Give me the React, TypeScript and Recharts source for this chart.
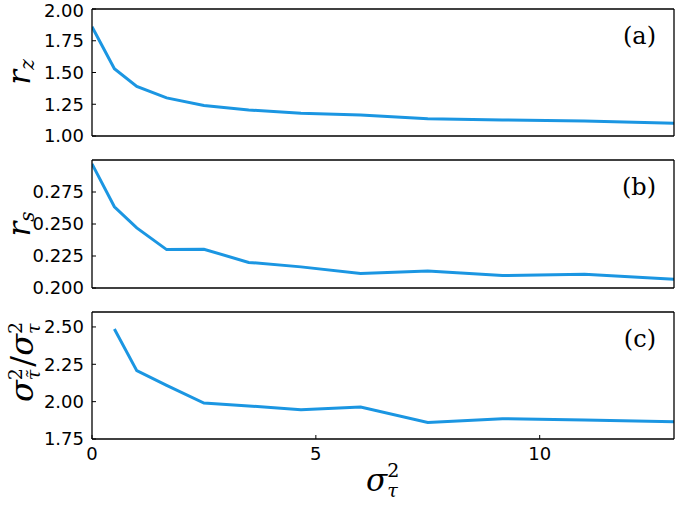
import { LineChart, Line, XAxis, YAxis } from "recharts";

// sigma_tau^2 sample points
const sigmaSq = [0, 0.5, 1, 1.667, 2.5, 3.5, 4.667, 6, 7.5, 9.167, 11, 13];
const rzValues = [1.86, 1.53, 1.39, 1.30, 1.24, 1.205, 1.18, 1.165, 1.135, 1.126, 1.118, 1.10];
const rsValues = [0.297, 0.2635, 0.247, 0.230, 0.2303, 0.220, 0.2165, 0.2113, 0.2133, 0.2097, 0.2107, 0.2068];
const ratioValues = [null, 2.486, 2.207, 2.109, 1.991, 1.971, 1.946, 1.964, 1.861, 1.886, 1.877, 1.866];

const xTicks = [0, 5, 10];
const rzTicks = [1.0, 1.25, 1.5, 1.75, 2.0];
const rsTicks = [0.2, 0.225, 0.25, 0.275];
const ratioTicks = [1.75, 2.0, 2.25, 2.5];

const W = 675;
const H = 506;
const BLUE = "#1b96e2";
const MATH = "DejaVu Serif";

const data = sigmaSq.map((x, i) => ({
  x,
  rz: rzValues[i],
  rs: rsValues[i],
  ratio: ratioValues[i],
}));

const frame = { stroke: "#000", strokeWidth: 1.3 };
const tickFont = { fill: "#000", fontSize: 18, fontFamily: "DejaVu Sans" };

function Tag({ text, x, y }: { text: string; x: number; y: number }) {
  return (
    <text x={x} y={y} textAnchor="end" fontFamily={MATH} fontSize={24} fill="#000">
      {text}
    </text>
  );
}

function RzLabel() {
  return (
    <text transform="rotate(-90)" x={-72} y={30} textAnchor="middle" fontFamily={MATH} fontStyle="italic" fontSize={31} fill="#000">
      <tspan>r</tspan>
      <tspan dy={4} fontSize={20}>z</tspan>
    </text>
  );
}

function RsLabel() {
  return (
    <text transform="rotate(-90)" x={-224} y={30} textAnchor="middle" fontFamily={MATH} fontStyle="italic" fontSize={31} fill="#000">
      <tspan>r</tspan>
      <tspan dy={4} fontSize={20}>s</tspan>
    </text>
  );
}

function RatioLabel() {
  return (
    <text transform="rotate(-90)" x={-362} y={33} textAnchor="middle" fontFamily={MATH} fontStyle="italic" fontSize={32} fill="#000">
      <tspan>σ</tspan>
      <tspan dy={-11} fontSize={19} fontStyle="normal">2</tspan>
      <tspan dx={-12} dy={18} fontSize={19}>τ̃</tspan>
      <tspan dx={3} dy={-7} fontStyle="normal">/</tspan>
      <tspan>σ</tspan>
      <tspan dy={-11} fontSize={19} fontStyle="normal">2</tspan>
      <tspan dx={-12} dy={18} fontSize={19}>τ</tspan>
    </text>
  );
}

function XLabel() {
  return (
    <text x={366} y={491} fontFamily={MATH} fontStyle="italic" fontSize={31} fill="#000">
      <tspan>σ</tspan>
      <tspan dy={-14} fontSize={19} fontStyle="normal">2</tspan>
      <tspan dx={-12} dy={20} fontSize={19}>τ</tspan>
    </text>
  );
}

interface PanelProps {
  dataKey: string;
  top: number;
  bottom: number;
  domain: [number, number];
  ticks: number[];
  digits: number;
  tag: string;
  yLabel: () => JSX.Element;
  xTicksShown?: boolean;
}

function Panel({ dataKey, top, bottom, domain, ticks, digits, tag, yLabel, xTicksShown }: PanelProps) {
  const bottomAxisH = xTicksShown ? 40 : 1;
  return (
    <div style={{ position: "absolute", left: 0, top: 0 }}>
      <LineChart
        width={W}
        height={H}
        data={data}
        margin={{ top: top - 1, right: 0, bottom: H - bottom - bottomAxisH, left: 0 }}
      >
        <XAxis
          xAxisId="b"
          type="number"
          dataKey="x"
          domain={[0, 13]}
          ticks={xTicks}
          allowDataOverflow
          height={bottomAxisH}
          axisLine={frame}
          tickLine={xTicksShown ? { stroke: "#000" } : false}
          tickSize={-4}
          tickMargin={12}
          tick={xTicksShown ? tickFont : false}
          label={xTicksShown ? () => <XLabel /> : undefined}
        />
        <XAxis
          xAxisId="t"
          orientation="top"
          type="number"
          dataKey="x"
          domain={[0, 13]}
          ticks={xTicks}
          allowDataOverflow
          height={1}
          axisLine={frame}
          tickLine={xTicksShown ? { stroke: "#000" } : false}
          tickSize={-4}
          tick={false}
        />
        <YAxis
          yAxisId="l"
          type="number"
          domain={domain}
          ticks={ticks}
          allowDataOverflow
          width={92}
          axisLine={frame}
          tickLine={{ stroke: "#000" }}
          tickSize={-4}
          tickMargin={12}
          tick={tickFont}
          tickFormatter={(v: number) => v.toFixed(digits)}
          label={() => yLabel()}
        />
        <YAxis
          yAxisId="r"
          orientation="right"
          type="number"
          domain={domain}
          ticks={ticks}
          allowDataOverflow
          width={1}
          axisLine={frame}
          tickLine={{ stroke: "#000" }}
          tickSize={-4}
          tick={false}
          label={() => <Tag text={tag} x={656} y={top + 35} />}
        />
        <Line
          xAxisId="b"
          yAxisId="l"
          type="linear"
          dataKey={dataKey}
          stroke={BLUE}
          strokeWidth={3}
          dot={false}
          isAnimationActive={false}
        />
      </LineChart>
    </div>
  );
}

export default function App() {
  return (
    <div style={{ position: "absolute", left: 0, top: 0, width: W, height: H, background: "#fff" }}>
      <Panel dataKey="rz" top={9} bottom={136} domain={[1, 2]} ticks={rzTicks} digits={2} tag="(a)" yLabel={RzLabel} />
      <Panel dataKey="rs" top={160} bottom={288} domain={[0.2, 0.3]} ticks={rsTicks} digits={3} tag="(b)" yLabel={RsLabel} />
      <Panel dataKey="ratio" top={312} bottom={439} domain={[1.75, 2.6]} ticks={ratioTicks} digits={2} tag="(c)" yLabel={RatioLabel} xTicksShown />
    </div>
  );
}
